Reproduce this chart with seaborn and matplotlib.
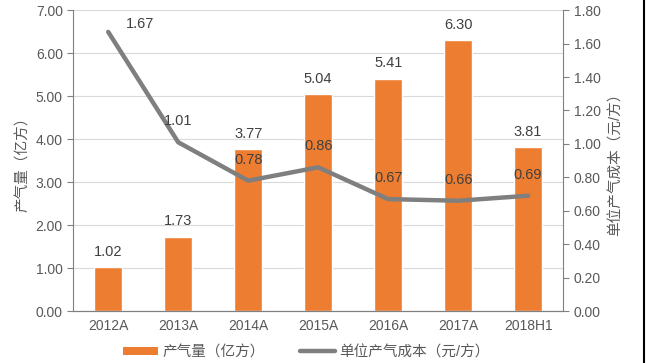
import matplotlib
matplotlib.use("Agg")
import matplotlib.pyplot as plt
from matplotlib.lines import Line2D
from matplotlib.patches import Patch
import seaborn as sns
import pandas as pd

# data
years = ['2012A', '2013A', '2014A', '2015A', '2016A', '2017A', '2018H1']
output = [1.02, 1.73, 3.77, 5.04, 5.41, 6.30, 3.81]
unit_cost = [1.67, 1.01, 0.78, 0.86, 0.67, 0.66, 0.69]

bar_color = '#ED7D31'
line_color = '#7F7F7F'
text_color = '#595959'

sns.set_style('white')
plt.rcParams['font.family'] = ['Liberation Sans', 'Noto Sans CJK SC', 'DejaVu Sans']

df = pd.DataFrame({'year': years, 'output': output, 'cost': unit_cost})

fig = plt.figure(figsize=(6.48, 3.63), dpi=100)
ax = fig.add_axes([0.113, 0.143, 0.756, 0.829])

sns.barplot(data=df, x='year', y='output', color=bar_color, width=0.4,
            saturation=1, ax=ax, zorder=2)
ax.set_ylim(0, 7)
ax.set_yticks([i for i in range(8)])
ax.set_yticklabels([f'{i:.2f}' for i in range(8)])
ax.set_xlim(-0.5, len(years) - 0.5)
ax.grid(axis='y', color='#D9D9D9', linewidth=0.8, zorder=0)
ax.set_axisbelow(True)

for p, v in zip(ax.patches, output):
    ax.annotate(f'{v:.2f}', (p.get_x() + p.get_width() / 2, p.get_height()),
                xytext=(0, 11), textcoords='offset points', ha='center',
                va='center', fontsize=10.5, color='#404040')

ax2 = ax.twinx()
sns.lineplot(data=df, x='year', y='cost', color=line_color, linewidth=3.2,
             ax=ax2, zorder=3)
ax2.set_ylim(0, 1.8)
ax2.set_yticks([i * 0.2 for i in range(10)])
ax2.set_yticklabels([f'{i * 0.2:.2f}' for i in range(10)])

for i, v in enumerate(unit_cost):
    dx = 23 if i == 0 else 0
    dy = 6 if i == 0 else 15
    ax2.annotate(f'{v:.2f}', (i, v), xytext=(dx, dy), textcoords='offset points',
                 ha='center', va='center', fontsize=10.5, color='#404040')

# axes styling
for a in (ax, ax2):
    a.spines['top'].set_visible(False)
    a.spines['left'].set_color('#808080')
    a.spines['right'].set_color('#808080')
    a.spines['bottom'].set_color('#808080')
    a.tick_params(axis='y', colors=text_color, labelsize=10, length=4,
                  color='#808080')
    a.set_xlabel('')
ax.spines['right'].set_visible(False)
ax2.spines['left'].set_visible(False)

ax.set_xticks(range(len(years)))
ax.set_xticklabels(years)
ax.tick_params(axis='x', which='major', length=0, colors=text_color,
               labelsize=10, pad=6)
ax.set_xticks([i - 0.5 for i in range(len(years) + 1)], minor=True)
ax.tick_params(axis='x', which='minor', length=4, color='#808080')

ax.set_ylabel('产气量（亿方）', color=text_color, fontsize=10.5, labelpad=4)
ax2.set_ylabel('单位产气成本（元/方）', color=text_color, fontsize=10.5,
               labelpad=6)

handles = [Patch(facecolor=bar_color, edgecolor='none'),
           Line2D([0], [0], color=line_color, linewidth=3.2)]
fig.legend(handles, ['产气量（亿方）', '单位产气成本（元/方）'],
           loc='center', bbox_to_anchor=(0.473, 0.03), ncol=2, frameon=False,
           fontsize=10.5, labelcolor=text_color, handlelength=2.4,
           handleheight=0.55, handletextpad=0.3, columnspacing=2.4)

fig.add_artist(Line2D([0.994, 0.994], [0, 1], color='black', linewidth=1.5,
                      transform=fig.transFigure))

fig.savefig('out.png', dpi=100)
